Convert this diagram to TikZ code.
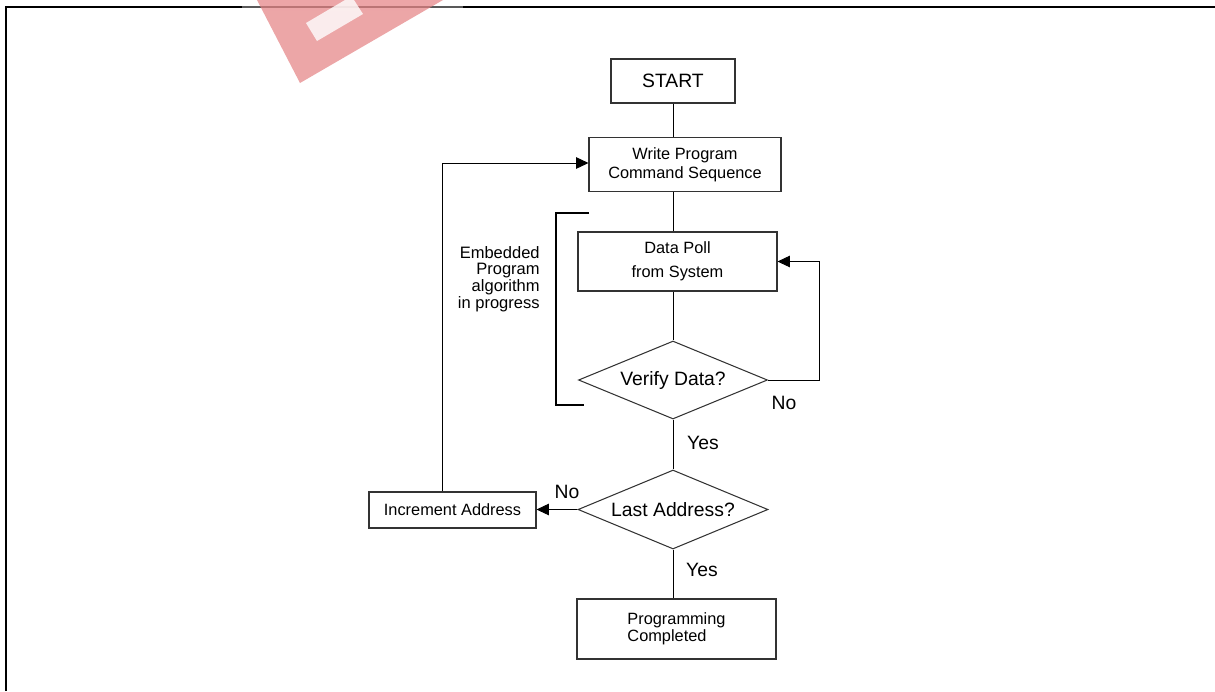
\documentclass[tikz,border=0pt]{standalone}
\usepackage{fontspec}
\setmainfont{Liberation Sans}
\usepackage{xcolor}
\usepackage{tikz}
\usetikzlibrary{arrows.meta,shapes.geometric,positioning,calc}
\definecolor{markred}{RGB}{228,128,130}
\tikzset{
	box/.style={draw=black!80, line width=0.6pt, inner sep=0pt, align=center},
	decision/.style={draw=black!80, line width=0.6pt, diamond, inner sep=0pt, aspect=2.4},
	flow/.style={line width=0.55pt},
	arrowline/.style={line width=0.55pt, -{Triangle[length=7pt,width=6.5pt]}},
	bigtext/.style={font=\fontsize{11}{13}\selectfont},
	smalltext/.style={font=\fontsize{9.3}{10.8}\selectfont},
}

\begin{document}
\begin{tikzpicture}[x=0.02cm, y=-0.02cm]
		\useasboundingbox (0,0) rectangle (1215,691);
		\draw[line width=1.2pt] (6,691) -- (6,7) -- (1215,7);
		\fill[white, opacity=0.35] (242,0) rectangle (463,11);
		\fill[markred, opacity=0.7] (257,0) -- (300,83) -- (443,0) -- cycle;
		\fill[white, opacity=0.8] (306,23) -- (317,41) -- (363,14) -- (354,0) -- (345,0) -- cycle;

		\node[box, bigtext, minimum width=2.48cm, minimum height=0.88cm] (start) at (673,81) {START};
		\node[box, smalltext, minimum width=3.84cm, minimum height=1.08cm] (write) at (685,164.5) {Write Program\\Command Sequence};
		\node[box, smalltext, minimum width=3.98cm, minimum height=1.18cm] (poll) at (677.5,261.5) {Data Poll\\[3pt]from System};
		\node[decision, bigtext, minimum width=3.78cm, minimum height=1.56cm] (verify) at (673,380) {Verify Data?};
		\node[decision, bigtext, minimum width=3.8cm, minimum height=1.58cm] (last) at (673,509.5) {Last Address?};
		\node[box, smalltext, minimum width=3.34cm, minimum height=0.72cm] (incr) at (452.5,510) {Increment Address};
		\node[box, font=\fontsize{9.3}{9.6}\selectfont, align=left, minimum width=3.98cm, minimum height=1.2cm] (done) at (676.5,629) {Programming\\Completed};

		\draw[flow] (start.south) -- (start.south |- write.north);
		\draw[flow] (write.south -| start) -- (poll.north -| start);
		\draw[flow] (poll.south -| start) -- (verify.north);
		\draw[flow] (verify.south) -- (last.north);
		\draw[flow] (last.south) -- (done.north -| last);
		\draw[arrowline] (verify.east) -- ++(51,0) |- (poll.east);
		\draw[arrowline] (last.west) -- (incr.east |- last.west);
		\coordinate (back) at (442,163);
		\draw[arrowline] (incr.north -| back) |- (write.west |- back);

		\node[bigtext] (noverify) at (784,403) {No};
		\node[bigtext] (yesverify) at (703,443) {Yes};
		\node[bigtext] (nolast) at (567,492) {No};
		\node[bigtext] (yeslast) at (702,570) {Yes};
		\node[font=\fontsize{9.4}{9.5}\selectfont, align=right, anchor=east, inner sep=0pt] (embedded) at (540,279) {Embedded\\Program\\algorithm\\in progress};
		\draw[line width=1.1pt] (589,213) -- (556,213) -- (556,405) -- (584,405);
	\end{tikzpicture}
\end{document}
